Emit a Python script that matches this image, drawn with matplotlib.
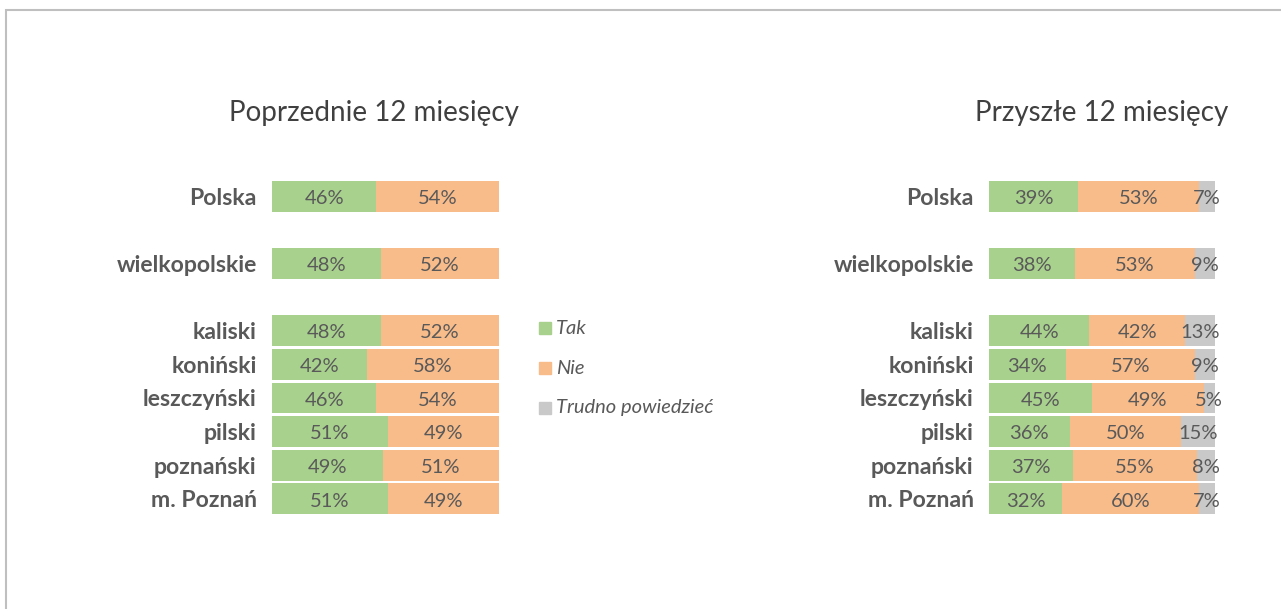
import numpy as np
import matplotlib.pyplot as plt
from matplotlib.patches import Rectangle

plt.rcParams['font.family'] = ['Lato', 'DejaVu Sans']

# categories (None = empty spacer row)
categories = ['Polska', None, 'wielkopolskie', None, 'kaliski', 'koniński',
              'leszczyński', 'pilski', 'poznański', 'm. Poznań']

# Poprzednie 12 miesięcy
prev_tak = [46, None, 48, None, 48, 42, 46, 51, 49, 51]
prev_nie = [54, None, 52, None, 52, 58, 54, 49, 51, 49]

# Przyszłe 12 miesięcy
next_tak = [39, None, 38, None, 44, 34, 45, 36, 37, 32]
next_nie = [53, None, 53, None, 42, 57, 49, 50, 55, 60]
next_trudno = [7, None, 9, None, 13, 9, 5, 15, 8, 7]

series_names = ['Tak', 'Nie', 'Trudno powiedzieć']
colors = ['#A9D18E', '#F8BB8A', '#C9C9C9']
text_color = '#595959'

fig = plt.figure(figsize=(12.81, 6.09), dpi=100)

# frame line around the chart area
fig.add_artist(Rectangle((6 / 1281, -0.1), 1.2, 1 - 10 / 609 + 0.1,
                         transform=fig.transFigure, fill=False,
                         edgecolor='#BFBFBF', linewidth=1.5))


def draw_panel(ax, series):
    rows = [i for i, c in enumerate(categories) if c is not None]
    for i in rows:
        vals = [s[i] for s in series]
        total = sum(vals)
        left = 0
        for v, col in zip(vals, colors):
            w = v / total * 100
            ax.barh(i, w, left=left, height=0.92, color=col, edgecolor='none')
            ax.annotate(f'{v}%', (left + w / 2, i), xytext=(0, -1.5),
                        textcoords='offset points', ha='center', va='center',
                        fontsize=14.5, color=text_color)
            left += w
    ax.set_xlim(0, 100)
    ax.set_ylim(9.5, -0.5)
    ax.set_yticks(rows)
    ax.set_yticklabels([categories[i] for i in rows], fontsize=16.6,
                       fontweight='bold', color=text_color)
    ax.tick_params(axis='y', length=0, pad=11)
    ax.set_xticks([])
    for sp in ax.spines.values():
        sp.set_visible(False)


ax1 = fig.add_axes([272 / 1281, 1 - 515.8 / 609, 227 / 1281, 336.6 / 609])
draw_panel(ax1, [prev_tak, prev_nie])

ax2 = fig.add_axes([989 / 1281, 1 - 515.8 / 609, 226 / 1281, 336.6 / 609])
draw_panel(ax2, [next_tak, next_nie, next_trudno])

fig.text(374 / 1281, 1 - 113 / 609, 'Poprzednie 12 miesięcy', ha='center',
         va='center', fontsize=20, color='#404040')
fig.text(1102 / 1281, 1 - 113 / 609, 'Przyszłe 12 miesięcy', ha='center',
         va='center', fontsize=20, color='#404040')

# legend
for k, (name, col) in enumerate(zip(series_names, colors)):
    y = 1 - (328 + 40 * k) / 609
    fig.add_artist(Rectangle((539 / 1281, y - 6 / 609), 12 / 1281, 12 / 609,
                             transform=fig.transFigure, color=col))
    fig.text(556 / 1281, y, name, ha='left', va='center', fontsize=14.5,
             style='italic', color=text_color)

fig.savefig('out.png', dpi=100)
